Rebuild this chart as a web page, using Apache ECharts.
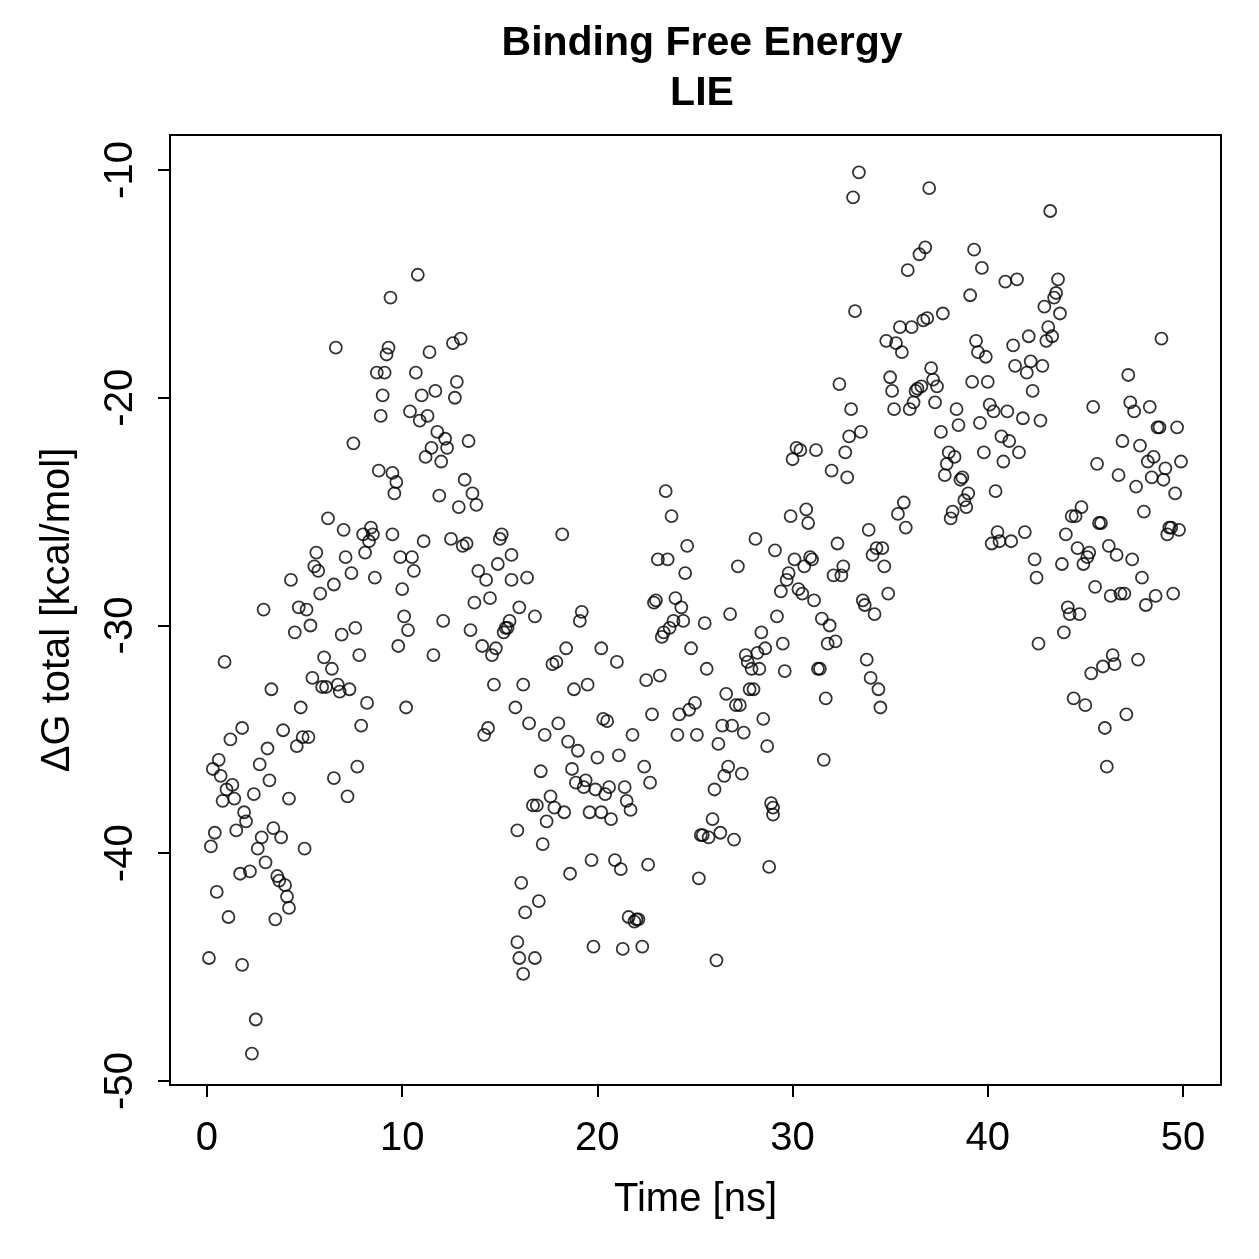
<!DOCTYPE html>
<html>
<head>
<meta charset="utf-8">
<script src="https://cdn.jsdelivr.net/npm/echarts@6/dist/echarts.min.js"></script>
<style>
  html, body { margin: 0; padding: 0; background: #fff; }
  #lie-chart { width: 1259px; height: 1259px; }
</style>
</head>
<body>
<div id="lie-chart"></div>
<script>
// time [ns], dG total [kcal/mol]
const lieSamples = [
  [0.1,-44.6],[0.2,-39.7],[0.3,-36.3],[0.4,-39.1],[0.5,-41.7],[0.6,-35.9],[0.7,-36.6],[0.8,-37.7],[0.9,-31.6],[1.0,-37.2],
  [1.1,-42.8],[1.2,-35.0],[1.3,-37.0],[1.4,-37.6],[1.5,-39.0],[1.7,-40.9],[1.8,-44.9],[1.8,-34.5],[1.9,-38.2],[2.0,-38.6],
  [2.2,-40.8],[2.3,-48.8],[2.4,-37.4],[2.5,-47.3],[2.6,-39.8],[2.7,-36.1],[2.8,-39.3],[2.9,-29.3],[3.0,-40.4],[3.1,-35.4],
  [3.2,-36.8],[3.3,-32.8],[3.4,-38.9],[3.5,-42.9],[3.6,-41.0],[3.7,-41.2],[3.8,-39.3],[3.9,-34.6],[4.0,-41.4],[4.1,-41.9],
  [4.2,-42.4],[4.2,-37.6],[4.3,-28.0],[4.5,-30.3],[4.6,-35.3],[4.7,-29.2],[4.8,-33.6],[4.9,-34.9],[5.0,-39.8],[5.1,-29.3],
  [5.2,-34.9],[5.3,-30.0],[5.4,-32.3],[5.5,-27.4],[5.6,-26.8],[5.7,-27.6],[5.8,-28.6],[5.9,-32.7],[6.0,-31.4],[6.1,-32.7],
  [6.2,-25.3],[6.4,-31.9],[6.5,-28.2],[6.5,-36.7],[6.6,-17.8],[6.7,-32.6],[6.8,-32.9],[6.9,-30.4],[7.0,-25.8],[7.1,-27.0],
  [7.2,-37.5],[7.3,-32.8],[7.4,-27.7],[7.5,-22.0],[7.6,-30.1],[7.7,-36.2],[7.8,-31.3],[7.9,-34.4],[8.0,-26.0],[8.1,-26.8],
  [8.2,-33.4],[8.3,-26.3],[8.4,-25.7],[8.5,-26.0],[8.6,-27.9],[8.7,-18.9],[8.8,-23.2],[8.9,-20.8],[9.0,-19.9],[9.1,-18.9],
  [9.2,-18.1],[9.3,-17.8],[9.4,-15.6],[9.5,-26.0],[9.5,-23.3],[9.6,-24.2],[9.7,-23.7],[9.8,-30.9],[9.9,-27.0],[10.0,-28.4],
  [10.1,-29.6],[10.2,-33.6],[10.3,-30.2],[10.4,-20.6],[10.5,-27.0],[10.6,-27.6],[10.7,-18.9],[10.8,-14.6],[10.9,-21.0],[11.0,-19.9],
  [11.1,-26.3],[11.2,-22.6],[11.3,-20.8],[11.4,-18.0],[11.5,-22.2],[11.6,-31.3],[11.7,-19.7],[11.8,-21.5],[11.9,-24.3],[12.0,-22.8],
  [12.1,-29.8],[12.2,-21.8],[12.3,-22.2],[12.5,-26.2],[12.6,-17.6],[12.7,-20.0],[12.8,-19.3],[12.9,-24.8],[13.0,-17.4],[13.1,-26.5],
  [13.2,-23.6],[13.3,-26.4],[13.4,-21.9],[13.5,-30.2],[13.6,-24.2],[13.7,-29.0],[13.8,-24.7],[13.9,-27.6],[14.1,-30.9],[14.2,-34.8],
  [14.3,-28.0],[14.4,-34.5],[14.5,-28.8],[14.6,-31.3],[14.7,-32.6],[14.8,-31.0],[14.9,-27.3],[15.0,-26.2],[15.1,-26.0],[15.2,-30.3],
  [15.3,-30.1],[15.4,-30.1],[15.5,-29.8],[15.6,-26.9],[15.6,-28.0],[15.8,-33.6],[15.9,-39.0],[15.9,-43.9],[16.0,-29.2],[16.0,-44.6],
  [16.1,-41.3],[16.2,-45.3],[16.2,-32.6],[16.3,-42.6],[16.4,-27.9],[16.5,-34.3],[16.7,-37.9],[16.8,-29.6],[16.8,-44.6],[16.9,-37.9],
  [17.0,-42.1],[17.1,-36.4],[17.2,-39.6],[17.3,-34.8],[17.4,-38.6],[17.6,-37.5],[17.7,-31.7],[17.8,-38.0],
  [17.9,-31.6],[18.0,-34.3],[18.2,-26.0],[18.3,-38.2],[18.4,-31.0],[18.5,-35.1],[18.6,-40.9],[18.7,-36.3],[18.8,-32.8],[18.9,-36.9],
  [19.0,-35.5],[19.1,-29.8],[19.2,-29.4],[19.3,-37.1],[19.4,-36.8],[19.5,-32.6],[19.6,-38.2],[19.7,-40.3],[19.8,-44.1],[19.9,-37.2],
  [20.0,-35.8],[20.2,-38.2],[20.2,-31.0],[20.3,-34.1],[20.4,-37.4],[20.5,-34.2],[20.6,-37.1],[20.7,-38.5],[20.9,-40.3],[21.0,-31.6],
  [21.1,-35.7],[21.2,-40.7],[21.3,-44.2],[21.4,-37.1],[21.5,-37.7],[21.6,-42.8],[21.7,-38.1],[21.8,-34.8],[21.9,-43.0],[22.0,-42.9],
  [22.1,-42.9],[22.3,-44.1],[22.4,-36.2],[22.5,-32.4],[22.6,-40.5],[22.7,-36.9],[22.8,-33.9],[22.9,-29.0],[23.0,-28.9],[23.1,-27.1],
  [23.2,-32.2],[23.3,-30.5],[23.4,-30.3],[23.5,-24.1],[23.6,-27.1],[23.7,-30.1],[23.8,-25.2],[23.9,-29.8],[24.0,-28.8],[24.1,-34.8],
  [24.2,-33.9],[24.3,-29.2],[24.4,-29.8],[24.5,-27.7],[24.6,-26.5],[24.7,-33.7],[24.8,-31.0],[25.0,-33.4],[25.1,-34.8],[25.2,-41.1],
  [25.3,-39.2],[25.4,-39.2],[25.5,-29.9],[25.6,-31.9],[25.7,-39.3],[25.9,-38.5],[26.0,-37.2],[26.1,-44.7],[26.2,-35.2],[26.3,-39.1],
  [26.4,-34.4],[26.5,-36.6],[26.6,-33.0],[26.7,-36.2],[26.8,-29.5],[26.9,-34.4],[27.0,-39.4],[27.1,-33.5],[27.2,-27.4],[27.3,-33.5],
  [27.4,-36.5],[27.5,-34.7],[27.6,-31.3],[27.7,-31.6],[27.8,-32.8],[27.9,-31.9],[28.0,-32.8],
  [28.1,-26.2],[28.2,-31.2],[28.3,-31.9],[28.4,-30.3],[28.5,-34.1],[28.6,-31.0],[28.7,-35.3],[28.8,-40.6],[28.9,-37.8],[29.0,-38.3],
  [29.0,-38.0],[29.1,-26.7],[29.2,-29.6],[29.4,-28.5],[29.5,-30.8],[29.6,-32.0],[29.7,-28.0],[29.8,-27.7],[29.9,-25.2],[30.0,-22.7],
  [30.1,-27.1],[30.2,-22.2],[30.3,-28.4],[30.4,-22.3],[30.5,-28.6],[30.6,-27.4],[30.7,-24.9],[30.8,-25.5],[30.9,-27.0],[31.0,-27.1],
  [31.1,-28.9],[31.2,-22.3],[31.3,-31.9],[31.4,-31.9],[31.5,-29.7],[31.6,-35.9],[31.7,-33.2],[31.8,-30.8],[31.9,-30.0],[32.0,-23.2],
  [32.1,-27.8],[32.2,-30.7],[32.3,-26.4],[32.4,-19.4],[32.5,-27.8],[32.6,-27.4],[32.7,-22.4],[32.8,-23.5],[32.9,-21.7],[33.0,-20.5],
  [33.1,-11.2],[33.2,-16.2],[33.4,-10.1],[33.5,-21.5],[33.6,-28.9],[33.7,-29.1],[33.8,-31.5],[33.9,-25.8],[34.0,-32.3],[34.1,-26.9],
  [34.2,-29.5],[34.3,-26.6],[34.4,-32.8],[34.5,-33.6],[34.6,-26.6],[34.7,-27.4],[34.8,-17.5],[34.9,-28.6],[35.0,-19.1],[35.1,-19.7],
  [35.2,-20.5],[35.3,-17.6],[35.4,-25.1],[35.5,-16.9],[35.6,-18.0],[35.7,-24.6],[35.8,-25.7],[35.9,-14.4],[36.0,-20.5],[36.1,-16.9],
  [36.2,-20.2],[36.3,-19.7],[36.4,-19.6],[36.5,-13.7],[36.6,-19.5],[36.7,-16.6],[36.8,-13.4],[36.9,-16.5],[37.0,-10.8],[37.1,-18.7],
  [37.2,-19.2],[37.3,-20.2],[37.4,-19.5],[37.6,-21.5],[37.7,-16.3],[37.8,-23.4],[37.9,-22.9],[38.0,-22.4],[38.1,-25.3],[38.2,-25.0],
  [38.3,-22.6],[38.4,-20.5],[38.5,-21.2],[38.6,-23.6],[38.7,-23.5],[38.8,-24.5],[38.9,-24.8],[39.0,-24.2],[39.1,-15.5],[39.2,-19.3],
  [39.3,-13.5],[39.4,-17.5],[39.5,-18.0],[39.6,-21.1],[39.7,-14.3],[39.8,-22.4],[39.9,-18.2],[40.0,-19.3],[40.1,-20.3],[40.2,-26.4],
  [40.3,-20.6],[40.4,-24.1],[40.5,-25.9],[40.6,-26.3],[40.7,-21.7],[40.8,-22.8],[40.9,-14.9],[41.0,-20.6],[41.1,-21.9],[41.2,-26.3],
  [41.3,-17.7],[41.4,-18.6],[41.5,-14.8],[41.6,-22.4],[41.8,-20.9],[41.9,-25.9],[42.0,-18.9],[42.1,-17.3],[42.2,-18.4],[42.3,-19.7],
  [42.4,-27.1],[42.5,-27.9],[42.6,-30.8],[42.7,-21.0],[42.8,-18.6],[42.9,-16.0],[43.0,-17.5],[43.1,-16.9],[43.2,-11.8],[43.3,-17.3],
  [43.4,-15.6],[43.5,-15.4],[43.6,-14.8],[43.7,-16.3],[43.8,-27.3],
  [43.9,-30.3],[44.0,-26.0],[44.1,-29.2],[44.2,-29.5],[44.3,-25.2],[44.4,-33.2],[44.5,-25.2],[44.6,-26.6],[44.7,-29.5],[44.8,-24.8],
  [44.9,-27.3],[45.0,-33.5],[45.1,-27.0],[45.2,-26.8],[45.3,-32.1],[45.4,-20.4],[45.5,-28.3],[45.6,-22.9],[45.7,-25.5],[45.8,-25.5],
  [45.9,-31.8],[46.0,-34.5],[46.1,-36.2],[46.2,-26.5],[46.3,-28.7],[46.4,-31.3],[46.5,-31.7],[46.6,-26.9],[46.7,-23.4],[46.8,-28.6],
  [46.9,-21.9],[47.0,-28.6],[47.1,-33.9],[47.2,-19.0],[47.3,-20.2],[47.4,-27.1],[47.5,-20.6],[47.6,-23.9],[47.7,-31.5],[47.8,-22.1],
  [47.9,-27.9],[48.0,-25.0],[48.1,-29.1],[48.2,-22.8],[48.3,-20.4],[48.4,-23.5],[48.5,-22.6],[48.6,-28.7],[48.7,-21.3],[48.8,-21.3],
  [48.9,-17.4],[49.0,-23.6],[49.1,-23.1],[49.2,-26.0],[49.3,-25.7],[49.4,-25.7],[49.5,-28.6],[49.6,-24.2],[49.7,-21.3],[49.8,-25.8],
  [49.9,-22.8]
]

const xTicks = [0, 10, 20, 30, 40, 50]
const yTicks = [-50, -40, -30, -20, -10]

const myChart = echarts.init(document.getElementById('lie-chart'), null, { renderer: 'canvas' })

const axisFont = {
  fontFamily: 'Liberation Sans, Arial, sans-serif',
  fontSize: 40,
  color: '#000'
}

const option = {
  backgroundColor: '#fff',
  animation: false,
  title: {
    text: 'Binding Free Energy\nLIE',
    left: 697,
    top: 14,
    textAlign: 'center',
    textStyle: {
      fontFamily: 'Liberation Sans, Arial, sans-serif',
      fontSize: 41,
      fontWeight: 'bold',
      lineHeight: 50,
      color: '#000'
    }
  },
  grid: {
    left: 170,
    top: 135,
    width: 1051,
    height: 950,
    show: true,
    borderColor: '#000',
    borderWidth: 2,
    backgroundColor: 'transparent'
  },
  xAxis: {
    type: 'value',
    min: -1.895,
    max: 51.95,
    name: 'Time [ns]',
    nameLocation: 'middle',
    nameGap: 95,
    nameTextStyle: axisFont,
    axisLine: { show: false, onZero: false },
    splitLine: { show: false },
    axisTick: {
      show: true,
      inside: false,
      length: 12,
      customValues: xTicks,
      lineStyle: { color: '#000', width: 2 }
    },
    axisLabel: Object.assign({ margin: 34, customValues: xTicks }, axisFont)
  },
  yAxis: {
    type: 'value',
    min: -50.176,
    max: -8.463,
    name: 'ΔG total [kcal/mol]',
    nameLocation: 'middle',
    nameGap: 92,
    nameTextStyle: axisFont,
    axisLine: { show: false, onZero: false },
    splitLine: { show: false },
    axisTick: {
      show: true,
      inside: false,
      length: 12,
      customValues: yTicks,
      lineStyle: { color: '#000', width: 2 }
    },
    axisLabel: Object.assign({ margin: 29, rotate: 90, customValues: yTicks }, axisFont)
  },
  series: [
    {
      name: 'LIE',
      type: 'scatter',
      data: lieSamples,
      symbol: 'circle',
      symbolSize: 12,
      itemStyle: {
        color: 'rgba(0,0,0,0)',
        borderColor: '#000',
        borderWidth: 1.8
      }
    }
  ]
}

myChart.setOption(option)
window.addEventListener('resize', function() {
  myChart.resize()
})
</script>
</body>
</html>
